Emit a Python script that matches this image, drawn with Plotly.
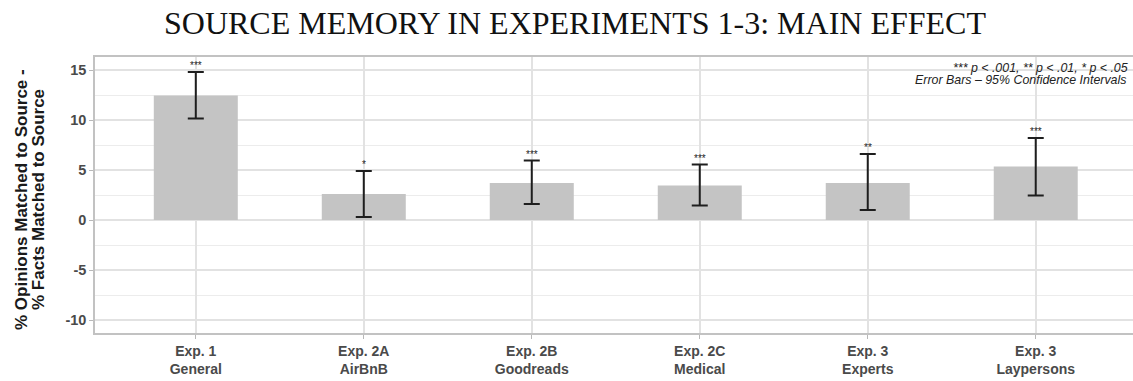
import plotly.graph_objects as go

categories = ["Exp. 1<br>General", "Exp. 2A<br>AirBnB", "Exp. 2B<br>Goodreads",
              "Exp. 2C<br>Medical", "Exp. 3<br>Experts", "Exp. 3<br>Laypersons"]
means = [12.45, 2.6, 3.7, 3.45, 3.7, 5.35]
ci_low = [10.15, 0.3, 1.6, 1.45, 1.0, 2.45]
ci_high = [14.8, 4.9, 5.95, 5.55, 6.6, 8.2]
sig = ["***", "*", "***", "***", "**", "***"]
y_ticks = [-10, -5, 0, 5, 10, 15]

W, H = 1133, 381
SANS = "Liberation Sans, Arial, sans-serif"
SERIF = "Liberation Serif, Times New Roman, serif"

fig = go.Figure()
fig.add_trace(go.Bar(
    x=categories, y=means, width=0.5,
    marker=dict(color="#c4c4c4", line=dict(width=0)),
    error_y=dict(type="data", symmetric=False,
                 array=[h - m for h, m in zip(ci_high, means)],
                 arrayminus=[m - l for m, l in zip(means, ci_low)],
                 color="#1e1e1e", thickness=2, width=8),
    showlegend=False, hoverinfo="skip",
))

annotations = []
for c, h, s in zip(categories, ci_high, sig):
    annotations.append(dict(x=c, y=h, xref="x", yref="y", text=s, showarrow=False,
                            yanchor="bottom", yshift=-1,
                            font=dict(family=SANS, size=10, color="#222222")))

annotations += [
    dict(xref="paper", yref="paper", x=1, y=1, xanchor="right", yanchor="middle",
         xshift=-3, yshift=-11, showarrow=False,
         text="<i>*** p < .001, ** p < .01, * p < .05</i>",
         font=dict(family=SANS, size=12.4, color="#222222")),
    dict(xref="paper", yref="paper", x=1, y=1, xanchor="right", yanchor="middle",
         xshift=-5, yshift=-23, showarrow=False,
         text="<i>Error Bars – 95% Confidence Intervals</i>",
         font=dict(family=SANS, size=12.4, color="#222222")),
    dict(xref="paper", yref="paper", x=0, y=0.5, xanchor="center", yanchor="middle",
         xshift=-(95 - 21), yshift=(333 - 57) / 2 - (200 - 57), textangle=-90, showarrow=False,
         text="<b>% Opinions Matched to Source -</b>",
         font=dict(family=SANS, size=17, color="#1a1a1a")),
    dict(xref="paper", yref="paper", x=0, y=0.5, xanchor="center", yanchor="middle",
         xshift=-(95 - 38), yshift=(333 - 57) / 2 - (200 - 57), textangle=-90, showarrow=False,
         text="<b>% Facts Matched to Source</b>",
         font=dict(family=SANS, size=17, color="#1a1a1a")),
]

fig.update_layout(
    width=W, height=H,
    margin=dict(l=95, r=0, t=57, b=48),
    paper_bgcolor="white", plot_bgcolor="white",
    title=dict(text="SOURCE MEMORY IN EXPERIMENTS 1-3: MAIN EFFECT",
               x=575 / W, xanchor="center", xref="container",
               y=1 - 23.2 / H, yanchor="middle", yref="container",
               font=dict(family=SERIF, size=32, color="#111111")),
    annotations=annotations,
    bargap=0.5,
)

fig.update_xaxes(
    range=[-0.6, 5.579], showgrid=True, gridcolor="#e2e2e2", gridwidth=1.5,
    showline=True, linecolor="#c2c2c2", linewidth=1.5, mirror=True,
    ticks="outside", ticklen=4, tickcolor="#b8b8b8", tickwidth=1,
    tickfont=dict(family=SANS, size=14, color="#4a4a4a", weight="bold"),
    zeroline=False, fixedrange=True,
)
fig.update_yaxes(
    range=[-11.3, 16.3], tickvals=y_ticks, ticktext=[str(v) for v in y_ticks],
    showgrid=True, gridcolor="#e2e2e2", gridwidth=1.5,
    minor=dict(dtick=2.5, tick0=0, showgrid=True, gridcolor="#ececec", gridwidth=1, ticks=""),
    showline=True, linecolor="#c2c2c2", linewidth=1.5, mirror=False,
    ticks="outside", ticklen=4, tickcolor="#b8b8b8", tickwidth=1,
    tickfont=dict(family=SANS, size=14.5, color="#4a4a4a", weight="bold"),
    zeroline=False, fixedrange=True,
)

fig.write_html("out.html")
